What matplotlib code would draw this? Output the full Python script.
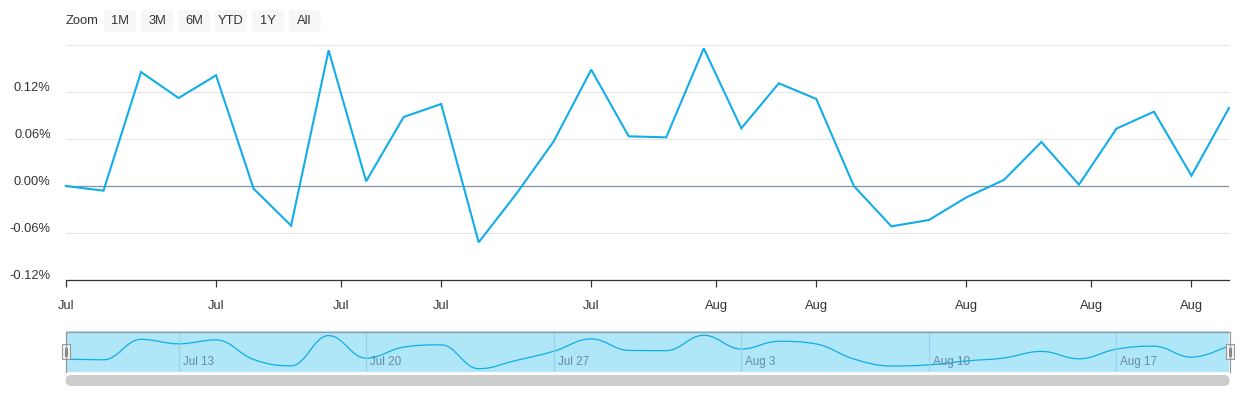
import numpy as np
import matplotlib.pyplot as plt
from matplotlib.path import Path
from matplotlib.patches import PathPatch, FancyBboxPatch, Rectangle
from matplotlib.transforms import ScaledTranslation

plt.rcParams['font.family'] = ['Liberation Sans', 'DejaVu Sans']

# daily change in %, business days Jul 8 - Aug 20
values = [0.000, -0.006, 0.1455, 0.1123, 0.1413, -0.0034, -0.0506, 0.1732,
          0.006, 0.0881, 0.1047, -0.0719, -0.0102, 0.057, 0.1485, 0.0634,
          0.0621, 0.1757, 0.0736, 0.1311, 0.1111, 0.000, -0.0515, -0.0434,
          -0.0145, 0.0077, 0.0562, 0.0017, 0.0732, 0.0949, 0.0132, 0.0996]
x = np.arange(len(values))

xtick_pos = [0, 4, 7.33, 10, 14, 17.33, 20, 24, 27.33, 30]
xtick_labels = ['Jul', 'Jul', 'Jul', 'Jul', 'Jul', 'Aug', 'Aug', 'Aug', 'Aug', 'Aug']
ytick_pos = [-0.12, -0.06, 0.0, 0.06, 0.12, 0.18]
ytick_labels = ['-0.12%', '-0.06%', '0.00%', '0.06%', '0.12%', '']

nav_pos = [3, 8, 13, 18, 23, 28]
nav_labels = ['Jul 13', 'Jul 20', 'Jul 27', 'Aug 3', 'Aug 10', 'Aug 17']

buttons = ['1M', '3M', '6M', 'YTD', '1Y', 'All']

line_col = '#12ade8'
W, H = 1240, 400


def spline_path(xs, ys, smoothing=1.5):
    # Highcharts-like spline drawn as cubic bezier segments
    n = len(xs)
    lc = [(xs[i], ys[i]) for i in range(n)]
    rc = [(xs[i], ys[i]) for i in range(n)]
    d = smoothing + 1
    for i in range(1, n - 1):
        px, py = xs[i], ys[i]
        lx = (smoothing * px + xs[i - 1]) / d
        ly = (smoothing * py + ys[i - 1]) / d
        rx = (smoothing * px + xs[i + 1]) / d
        ry = (smoothing * py + ys[i + 1]) / d
        corr = (ry - ly) * (rx - px) / (rx - lx) + py - ry
        ly += corr
        ry += corr
        lo, hi = min(ys[i - 1], py), max(ys[i - 1], py)
        if ly > hi:
            ly = hi; ry = 2 * py - ly
        elif ly < lo:
            ly = lo; ry = 2 * py - ly
        lo, hi = min(ys[i + 1], py), max(ys[i + 1], py)
        if ry > hi:
            ry = hi; ly = 2 * py - ry
        elif ry < lo:
            ry = lo; ly = 2 * py - ry
        lc[i] = (lx, ly)
        rc[i] = (rx, ry)
    verts = [(xs[0], ys[0])]
    codes = [Path.MOVETO]
    for i in range(1, n):
        verts += [rc[i - 1], lc[i], (xs[i], ys[i])]
        codes += [Path.CURVE4] * 3
    return Path(verts, codes)


fig = plt.figure(figsize=(W / 100, H / 100), dpi=100)

# main chart
ax = fig.add_axes([66 / W, 1 - 280 / H, 1163 / W, 235 / H])
ax.set_xlim(0, len(values) - 1)
ax.set_ylim(-0.12, 0.18)
ax.set_yticks(ytick_pos)
ax.set_yticklabels(ytick_labels)
ax.set_xticks(xtick_pos)
ax.set_xticklabels(xtick_labels)
ax.grid(axis='y', color='#e6e6e6', lw=0.8)
ax.set_axisbelow(True)
for s in ['top', 'right', 'left']:
    ax.spines[s].set_visible(False)
ax.spines['bottom'].set_color('#333333')
ax.spines['bottom'].set_linewidth(0.9)
ax.tick_params(axis='y', length=0, pad=11, labelsize=9.3, labelcolor='#333333')
ax.tick_params(axis='x', length=5, width=0.9, color='#333333', pad=9.5,
               labelsize=9.3, labelcolor='#333333')
for lab in ax.get_yticklabels():
    lab.set_transform(lab.get_transform() + ScaledTranslation(0, 5.5 / 100, fig.dpi_scale_trans))
ax.axhline(0, color='#8193a6', lw=0.9, zorder=2)
ax.plot(x, values, color=line_col, lw=1.5, zorder=3, clip_on=False,
        solid_joinstyle='miter')

# navigator
nav = fig.add_axes([66 / W, 1 - 371.7 / H, 1163 / W, 40.4 / H])
nav.set_facecolor('#afe6f8')
nav.set_xlim(0, len(values) - 1)
nav.set_ylim(-0.094, 0.205)
nav.set_xticks([])
nav.set_yticks([])
for s in nav.spines.values():
    s.set_visible(False)
for p, lab in zip(nav_pos, nav_labels):
    nav.axvline(p, color='#94d3ea', lw=0.8)
    nav.text(p, -0.094, lab, ha='left', va='bottom', fontsize=8.4, color='#668ca6',
             transform=nav.transData + ScaledTranslation(4 / 100, 4 / 100, fig.dpi_scale_trans))
nav.add_patch(PathPatch(spline_path(list(x), values), fill=False, ec=line_col, lw=0.9))

# overlay in pixel coordinates: zoom buttons, outline, handles, scrollbar
ov = fig.add_axes([0, 0, 1, 1], zorder=5)
ov.set_xlim(0, W)
ov.set_ylim(H, 0)
ov.axis('off')
ov.patch.set_alpha(0)

ov.text(66, 21, 'Zoom', ha='left', va='center', fontsize=9.4, color='#333333')
bx = 104.3
for b in buttons:
    ov.add_patch(FancyBboxPatch((bx, 10), 31.7, 22, boxstyle='round,pad=0,rounding_size=2',
                                fc='#f7f7f7', ec='none'))
    ov.text(bx + 15.85, 21.5, b, ha='center', va='center', fontsize=9.3, color='#333333')
    bx += 36.9

ov.plot([65.5, 65.5, 1229.5, 1229.5], [372, 331.5, 331.5, 372], color='#999999', lw=0.9)
for hx in [65.5, 1229.5]:
    ov.add_patch(Rectangle((hx - 4, 344), 8, 15, fc='#f2f2f2', ec='#999999', lw=0.8))
    ov.plot([hx - 1, hx - 1], [347.5, 355.5], color='#555555', lw=0.5)
    ov.plot([hx + 1, hx + 1], [347.5, 355.5], color='#555555', lw=0.5)

ov.add_patch(FancyBboxPatch((65.5, 375), 1164, 11, boxstyle='round,pad=0,rounding_size=5.5',
                            fc='#cccccc', ec='none'))

fig.savefig('out.png', dpi=100)
